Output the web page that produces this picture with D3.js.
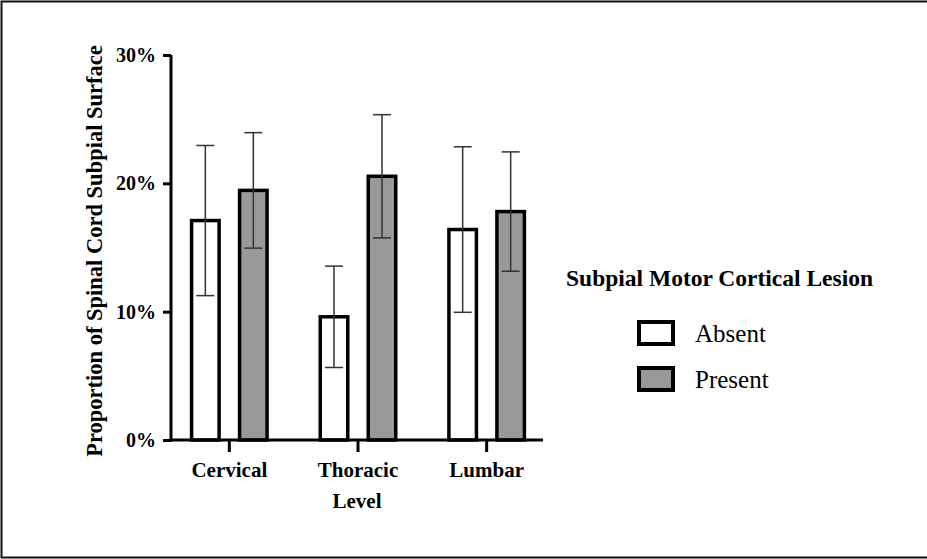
<!DOCTYPE html>
<html>
<head>
<meta charset="utf-8">
<script src="https://cdn.jsdelivr.net/npm/d3@7"></script>
<style>
  body { margin: 0; background: #fff; }
  svg { display: block; }
  svg text { font-family: "Times New Roman", Times, "Liberation Serif", "DejaVu Serif", serif !important; }
</style>
</head>
<body>
<div id="chart"></div>
<script>
// データ
const levels = ['Cervical', 'Thoracic', 'Lumbar'];
const groups = ['Absent', 'Present'];
const meanAbsent = [17.1, 9.6, 16.4];
const meanPresent = [19.45, 20.55, 17.8];
const errAbsent = [5.85, 3.95, 6.45];
const errPresent = [4.5, 4.8, 4.65];
const yTicks = [0, 10, 20, 30];
const groupColors = ['#ffffff', '#999999'];

const width = 927;
const height = 559;

const svg = d3.select('#chart')
    .append('svg')
    .attr('width', width)
    .attr('height', height);

// 外枠
svg.append('rect')
    .attr('x', 1.5)
    .attr('y', 1.5)
    .attr('width', 930)
    .attr('height', 556)
    .attr('fill', 'none')
    .attr('stroke', '#111')
    .attr('stroke-width', 2);

const x = d3.scaleBand()
    .domain(levels)
    .range([165, 551]);

const xSub = d3.scaleBand()
    .domain(groups)
    .range([0, x.bandwidth()])
    .paddingInner(0.427)
    .paddingOuter(0.554);

const y = d3.scaleLinear()
    .domain([0, 30])
    .range([440, 55]);

// データを行に
const rows = [];
levels.forEach((lv, i) => {
    rows.push({ level: lv, group: 'Absent', mean: meanAbsent[i], err: errAbsent[i] });
    rows.push({ level: lv, group: 'Present', mean: meanPresent[i], err: errPresent[i] });
});

// バー
const bars = svg.append('g');
bars.selectAll('rect')
    .data(rows)
    .enter()
    .append('rect')
    .attr('x', d => x(d.level) + xSub(d.group))
    .attr('y', d => y(d.mean))
    .attr('width', xSub.bandwidth())
    .attr('height', d => y(0) - y(d.mean))
    .attr('fill', d => groupColors[groups.indexOf(d.group)])
    .attr('stroke', '#000')
    .attr('stroke-width', 3.5);

// エラーバー
const capHalf = 9;
const err = svg.append('g')
    .attr('stroke', '#333')
    .attr('stroke-width', 1.5);
rows.forEach(d => {
    const cx = x(d.level) + xSub(d.group) + xSub.bandwidth() / 2;
    const top = y(d.mean + d.err);
    const bot = y(d.mean - d.err);
    err.append('line').attr('x1', cx).attr('x2', cx).attr('y1', top).attr('y2', bot);
    err.append('line').attr('x1', cx - capHalf).attr('x2', cx + capHalf).attr('y1', top).attr('y2', top);
    err.append('line').attr('x1', cx - capHalf).attr('x2', cx + capHalf).attr('y1', bot).attr('y2', bot);
});

// Y軸
const yAxis = svg.append('g')
    .attr('transform', 'translate(171,0)')
    .call(d3.axisLeft(y)
        .tickValues(yTicks)
        .tickSize(8)
        .tickSizeOuter(0)
        .tickPadding(7)
        .tickFormat(d => d + '%'));
yAxis.selectAll('path, line')
    .attr('stroke', '#000')
    .attr('stroke-width', 3);
yAxis.select('.domain').attr('d', 'M0,' + y(30) + 'V' + (y(0) + 1.5));
yAxis.selectAll('text')
    .attr('font-size', 20)
    .attr('font-weight', 'bold')
    .attr('fill', '#000');

// X軸
const xAxis = svg.append('g')
    .attr('transform', 'translate(0,' + y(0) + ')')
    .call(d3.axisBottom(x)
        .tickSize(12)
        .tickSizeOuter(0)
        .tickPadding(10));
xAxis.selectAll('path, line')
    .attr('stroke', '#000')
    .attr('stroke-width', 3);
xAxis.select('.domain').attr('d', 'M169.5,0H543');
xAxis.selectAll('text')
    .attr('font-size', 21)
    .attr('font-weight', 'bold')
    .attr('fill', '#000');

// 軸タイトル
svg.append('text')
    .attr('x', 357)
    .attr('y', 508)
    .attr('text-anchor', 'middle')
    .attr('font-size', 21)
    .attr('font-weight', 'bold')
    .text('Level');

svg.append('text')
    .attr('transform', 'translate(102,251) rotate(-90)')
    .attr('text-anchor', 'middle')
    .attr('font-size', 22.5)
    .attr('font-weight', 'bold')
    .text('Proportion of Spinal Cord Subpial Surface');

// 凡例
const legend = svg.append('g');
legend.append('text')
    .attr('x', 566)
    .attr('y', 286)
    .attr('font-size', 23.5)
    .attr('font-weight', 'bold')
    .text('Subpial Motor Cortical Lesion');

groups.forEach((g, i) => {
    const ly = 322 + i * 46;
    legend.append('rect')
        .attr('x', 639)
        .attr('y', ly)
        .attr('width', 34)
        .attr('height', 22)
        .attr('fill', groupColors[i])
        .attr('stroke', '#000')
        .attr('stroke-width', 4);
    legend.append('text')
        .attr('x', 695)
        .attr('y', ly + 20)
        .attr('font-size', 25)
        .text(g);
});
</script>
</body>
</html>
